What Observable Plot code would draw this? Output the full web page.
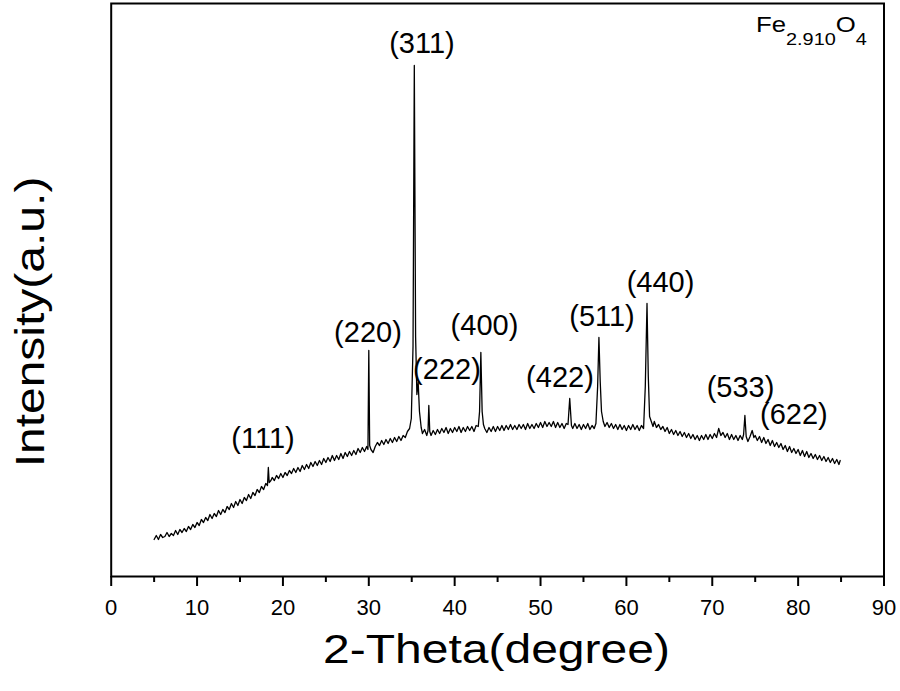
<!DOCTYPE html>
<html><head><meta charset="utf-8">
<script src="https://cdn.jsdelivr.net/npm/d3@7"></script>
<script src="https://cdn.jsdelivr.net/npm/@observablehq/plot@0.6"></script>
<style>body{margin:0;background:#fff}</style>
</head><body><div id="chart"></div>
<script>
const twoTheta = [5.00,5.25,5.50,5.75,6.00,6.25,6.50,6.75,7.00,7.25,7.50,7.75,8.00,8.25,8.50,8.75,9.00,9.25,9.50,9.75,10.00,10.25,10.50,10.75,11.00,11.25,11.50,11.75,12.00,12.25,12.50,12.75,13.00,13.25,13.50,13.75,14.00,14.25,14.50,14.75,15.00,15.25,15.50,15.75,16.00,16.25,16.50,16.75,17.00,17.25,17.50,17.75,18.00,18.20,18.30,18.40,18.60,18.75,19.00,19.25,19.50,19.75,20.00,20.25,20.50,20.75,21.00,21.25,21.50,21.75,22.00,22.25,22.50,22.75,23.00,23.25,23.50,23.75,24.00,24.25,24.50,24.75,25.00,25.25,25.50,25.75,26.00,26.25,26.50,26.75,27.00,27.25,27.50,27.75,28.00,28.25,28.50,28.75,29.00,29.25,29.50,29.75,29.90,30.00,30.10,30.25,30.50,30.75,31.00,31.25,31.50,31.75,32.00,32.25,32.50,32.75,33.00,33.25,33.50,33.75,34.00,34.25,34.50,34.75,34.95,35.15,35.30,35.45,35.60,35.75,35.90,36.10,36.25,36.50,36.75,36.90,36.99,37.10,37.25,37.50,37.75,38.00,38.25,38.50,38.75,39.00,39.25,39.50,39.75,40.00,40.25,40.50,40.75,41.00,41.25,41.50,41.75,42.00,42.25,42.50,42.75,42.90,43.05,43.20,43.35,43.50,43.75,44.00,44.25,44.50,44.75,45.00,45.25,45.50,45.75,46.00,46.25,46.50,46.75,47.00,47.25,47.50,47.75,48.00,48.25,48.50,48.75,49.00,49.25,49.50,49.75,50.00,50.25,50.50,50.75,51.00,51.25,51.50,51.75,52.00,52.25,52.50,52.75,53.00,53.20,53.40,53.60,53.75,54.00,54.25,54.50,54.75,55.00,55.25,55.50,55.75,56.00,56.25,56.45,56.65,56.80,56.95,57.10,57.30,57.50,57.75,58.00,58.25,58.50,58.75,59.00,59.25,59.50,59.75,60.00,60.25,60.50,60.75,61.00,61.25,61.50,61.75,62.00,62.20,62.40,62.55,62.70,62.90,63.10,63.25,63.50,63.75,64.00,64.25,64.50,64.75,65.00,65.25,65.50,65.75,66.00,66.25,66.50,66.75,67.00,67.25,67.50,67.75,68.00,68.25,68.50,68.75,69.00,69.25,69.50,69.75,70.00,70.25,70.50,70.75,71.00,71.25,71.50,71.75,72.00,72.25,72.50,72.75,73.00,73.25,73.50,73.65,73.80,73.95,74.15,74.40,74.65,74.85,75.00,75.25,75.50,75.75,76.00,76.25,76.50,76.75,77.00,77.25,77.50,77.75,78.00,78.25,78.50,78.75,79.00,79.25,79.50,79.75,80.00,80.25,80.50,80.75,81.00,81.25,81.50,81.75,82.00,82.25,82.50,82.75,83.00,83.25,83.50,83.75,84.00,84.25,84.50,84.75,84.90];
const intensity = [37,41,37,42,39,40,44,40,43,41,46,42,47,44,48,45,50,47,52,49,54,51,57,54,59,56,62,58,63,60,66,62,67,64,70,67,73,69,75,71,77,73,79,76,82,78,84,81,87,84,90,87,93,91,109,94,96,99,96,101,98,103,99,104,101,106,103,108,104,109,105,111,107,112,108,114,110,115,111,116,112,118,114,119,115,121,116,121,117,123,118,124,120,125,121,126,122,128,124,129,125,130,127,226,131,127,124,130,134,131,136,132,137,133,138,134,139,135,140,136,141,139,145,148,158,230,511,240,182,194,165,149,143,147,141,146,171,145,141,146,142,147,143,148,144,149,143,148,144,149,145,150,144,149,145,150,146,150,145,151,150,165,224,165,152,148,144,149,145,150,145,150,146,151,146,151,147,152,147,151,147,152,148,152,147,153,148,152,148,153,149,154,149,155,150,154,150,155,149,154,149,153,148,153,152,178,151,148,153,148,152,147,152,148,153,147,151,148,153,190,239,195,165,155,150,154,149,153,148,152,147,152,147,151,146,151,147,152,147,151,146,151,148,190,273,200,160,155,150,155,149,152,147,150,145,149,143,147,142,146,141,145,140,144,139,143,138,142,137,141,136,141,137,142,137,142,138,143,139,148,141,144,139,143,137,142,137,141,136,141,137,142,161,140,135,140,146,139,141,136,140,134,139,133,137,131,136,130,134,129,133,127,131,125,130,124,128,123,127,121,126,120,125,119,123,118,122,117,121,116,120,115,119,114,118,113,117,112,116];

// Miller-index annotations (anchor in data units)
const peakLabels = ["(111)","(220)","(311)","(222)","(400)","(422)","(511)","(440)","(533)","(622)"];
const labelX = [17.68,29.9,36.19,39.1,43.47,52.26,57.16,63.97,73.29,79.51];
const labelY = [138,244,533,207,251,199,260,294,189,162];

const majorTicks = [0,10,20,30,40,50,60,70,80,90];
const minorTicks = [5,15,25,35,45,55,65,75,85];
const xTitle = "2-Theta(degree)";
const yTitle = "Intensity(a.u.)";
const sampleParts = ["Fe","2.910","O","4"];

const pattern = twoTheta.map((t, i) => ({t, I: intensity[i]}));
const labels = peakLabels.map((l, i) => ({l, x: labelX[i], y: labelY[i]}));

const plot = Plot.plot({
  width: 900,
  height: 691,
  marginLeft: 110.7,
  marginRight: 16.5,
  marginTop: 3,
  marginBottom: 115,
  style: {fontFamily: "'Liberation Sans', Arial, sans-serif", background: "#fff", color: "#000", overflow: "visible"},
  x: {domain: [0, 90]},
  y: {domain: [0, 573], axis: null},
  marks: [
    Plot.line(pattern, {x: "t", y: "I", stroke: "#000", strokeWidth: 1.3}),
    Plot.text(labels, {x: "x", y: "y", text: "l", fontSize: 29, fill: "#000"}),
    Plot.axisX(majorTicks, {tickSize: 10, tickPadding: 13, fontSize: 22, strokeWidth: 2, label: null, tickFormat: d => String(d)}),
    Plot.axisX(minorTicks, {tickSize: 6, text: null, strokeWidth: 2, label: null}),
    Plot.frame({stroke: "#000", strokeWidth: 2})
  ]
});

const svg = d3.select(plot);
svg.append("text")
  .attr("transform", "translate(496.5,663) scale(1.2,1)")
  .attr("text-anchor", "middle")
  .style("font-size", "40px")
  .attr("fill", "#000")
  .text(xTitle);
svg.append("text")
  .attr("transform", "translate(44,322) rotate(-90) scale(1.2,1)")
  .attr("text-anchor", "middle")
  .style("font-size", "40px")
  .attr("fill", "#000")
  .text(yTitle);
const st = svg.append("text")
  .attr("transform", "translate(756,32) scale(1.17,1)")
  .attr("text-anchor", "start")
  .style("font-size", "22px")
  .attr("fill", "#000");
st.append("tspan").style("font-size", "22px").text(sampleParts[0]);
st.append("tspan").style("font-size", "17px").attr("dy", 13).text(sampleParts[1]);
st.append("tspan").style("font-size", "22px").attr("dy", -13).text(sampleParts[2]);
st.append("tspan").style("font-size", "17px").attr("dy", 13).text(sampleParts[3]);

document.getElementById("chart").appendChild(plot);
</script>
</body></html>
